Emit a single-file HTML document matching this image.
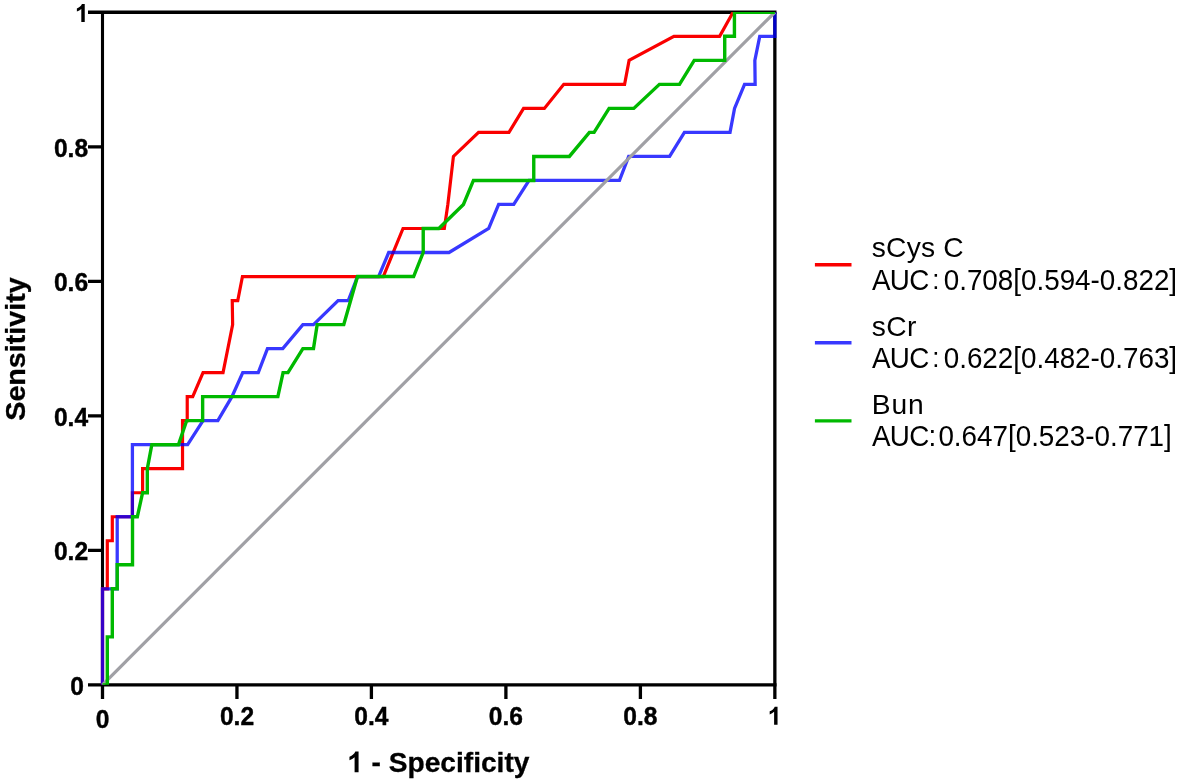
<!DOCTYPE html>
<html>
<head>
<meta charset="utf-8">
<title>ROC</title>
<style>
html,body{margin:0;padding:0;background:#fff;}
body{width:1180px;height:782px;overflow:hidden;position:relative;font-family:"Liberation Sans",sans-serif;}
svg{position:absolute;left:0;top:0;filter:blur(0.45px);}
text{font-family:"Liberation Sans",sans-serif;fill:#000;}
.tk{font-size:24.6px;font-weight:bold;stroke:#000;stroke-width:0.4px;}
.ttl{font-size:28.3px;font-weight:bold;stroke:#000;stroke-width:0.3px;}
.lg{font-size:27.8px;}
.l1{font-size:28.2px;}
.auc{letter-spacing:-0.7px;}
</style>
</head>
<body>
<svg width="1180" height="782" viewBox="0 0 1180 782">
<rect x="0" y="0" width="1180" height="782" fill="#ffffff"/>
<!-- axes frame -->
<g stroke="#000" stroke-width="3.3" fill="none" stroke-linecap="butt">
<path stroke-width="3.1" d="M102.5,12.25 L102.5,686.5"/>
<path d="M774.85,12.25 L774.85,698.9"/>
<path d="M88,12.25 L776.5,12.25"/>
<path d="M88,684.85 L776.5,684.85"/>
<!-- y ticks -->
<path d="M88,146.9 H102.5 M88,281.4 H102.5 M88,415.95 H102.5 M88,550.45 H102.5"/>
<!-- x ticks -->
<path d="M102.5,684.85 V698.9 M236.95,684.85 V698.9 M371.4,684.85 V698.9 M505.9,684.85 V698.9 M640.4,684.85 V698.9"/>
</g>
<!-- curves -->
<clipPath id="cp"><rect x="95" y="12.1" width="690" height="672.75"/></clipPath>
<g fill="none" stroke-linejoin="miter" stroke-miterlimit="10" clip-path="url(#cp)">
<path id="red" stroke="#fa0000" stroke-width="3.2" d="M102.5,684.9 L102.5,588.81 L107.3,588.81 L107.3,540.77 L112.3,540.77 L112.3,516.75 L132.41,516.75 L132.41,492.73 L142.61,492.73 L142.61,468.71 L182.53,468.71 L182.53,420.66 L187.23,420.66 L187.23,396.64 L192.73,396.64 L203.04,372.62 L223.04,372.62 L232.65,324.58 L232.25,300.56 L237.75,300.56 L242.45,276.54 L383.3,276.54 L403.01,228.49 L444.33,228.49 L447.83,204.47 L453.43,156.43 L478.54,132.41 L508.95,132.41 L523.56,108.39 L544.36,108.39 L563.77,84.36 L624.59,84.36 L629.1,60.34 L673.91,36.32 L719.63,36.32 L733.03,12.3 L774.85,12.3"/>
<path id="blue" stroke="#0000ff" stroke-opacity="0.78" stroke-width="3.3" d="M102.5,684.9 L102.5,588.81 L117.21,588.81 L117.21,516.75 L132.41,516.75 L132.41,444.69 L187.63,444.69 L203.04,420.66 L217.84,420.66 L231.95,396.64 L242.75,372.62 L258.26,372.62 L267.46,348.6 L282.77,348.6 L302.87,324.58 L313.48,324.58 L338.09,300.56 L348.29,300.56 L357.49,276.54 L378.6,276.54 L388.71,252.51 L449.03,252.51 L488.74,228.49 L498.65,204.47 L513.75,204.47 L529.06,180.45 L619.49,180.45 L628.7,156.43 L669.61,156.43 L684.42,132.41 L730.03,132.41 L734.54,108.39 L744.54,84.36 L755.14,84.36 L754.84,60.34 L759.74,36.32 L774.85,36.32 L774.85,12.3"/>
<path id="gray" stroke="#a0a0a5" stroke-width="3.2" d="M102.5,684.85 L774.85,12.25"/>
<path id="green" stroke="#00b900" stroke-width="3.4" d="M102.5,684.9 L107.3,684.9 L107.3,636.86 L112.3,636.86 L112.3,588.81 L117.21,588.81 L117.21,564.79 L132.51,564.79 L132.51,516.75 L137.31,516.75 L142.61,492.73 L147.32,492.73 L147.32,468.71 L151.82,444.69 L178.43,444.69 L186.63,420.66 L202.64,420.66 L202.64,396.64 L277.87,396.64 L283.07,372.62 L287.97,372.62 L302.87,348.6 L313.48,348.6 L317.18,324.58 L343.79,324.58 L357.49,276.54 L413.62,276.54 L423.22,252.51 L423.22,228.49 L438.83,228.49 L463.43,204.47 L473.44,180.45 L533.76,180.45 L533.76,156.43 L569.37,156.43 L589.38,132.41 L594.08,132.41 L609.09,108.39 L633.8,108.39 L659.41,84.36 L679.51,84.36 L694.22,60.34 L724.73,60.34 L724.73,36.32 L734.43,36.32 L734.43,12.3 L774.85,12.3"/>
</g>
<!-- y tick labels -->
<g class="tk">
<path d="M806,0H525V1059Q371,915 162,846V1101Q272,1137 401,1237.5Q530,1338 578,1472H806Z" transform="translate(74.9,21.9) scale(0.012207,-0.012207)"/>
<text text-anchor="end" transform="translate(88.1,156.8) scale(1,1.04)">0.8</text>
<text text-anchor="end" transform="translate(88.1,291.3) scale(1,1.04)">0.6</text>
<text text-anchor="end" transform="translate(88.1,425.85) scale(1,1.04)">0.4</text>
<text text-anchor="end" transform="translate(88.1,560.35) scale(1,1.04)">0.2</text>
<text text-anchor="end" transform="translate(83.9,694.75) scale(1,1.04)">0</text>
</g>
<!-- x tick labels -->
<g class="tk">
<text text-anchor="middle" transform="translate(102.6,728.1) scale(1,1.04)">0</text>
<text text-anchor="middle" transform="translate(237,724.8) scale(1,1.04)">0.2</text>
<text text-anchor="middle" transform="translate(371.4,724.8) scale(1,1.04)">0.4</text>
<text text-anchor="middle" transform="translate(505.8,724.8) scale(1,1.04)">0.6</text>
<text text-anchor="middle" transform="translate(640.3,724.8) scale(1,1.04)">0.8</text>
<path d="M806,0H525V1059Q371,915 162,846V1101Q272,1137 401,1237.5Q530,1338 578,1472H806Z" transform="translate(767.7,724.8) scale(0.012207,-0.012207)"/>
</g>
<!-- axis titles -->
<g class="ttl">
<path d="M806,0H525V1059Q371,915 162,846V1101Q272,1137 401,1237.5Q530,1338 578,1472H806Z" transform="translate(347.16,772.3) scale(0.014160,-0.014160)"/>
<text style="font-size:28.15px" transform="translate(363.71,772.3) scale(1,0.985)" xml:space="preserve"> - Specificity</text>
<text style="font-size:28.7px" text-anchor="middle" transform="translate(24.7,349) rotate(-90) scale(1,0.985)">Sensitivity</text>
</g>
<!-- legend -->
<g stroke-width="3.4" fill="none">
<path stroke="#fa0000" d="M814.9,264.8 H851.5"/>
<path stroke="#0000ff" stroke-opacity="0.78" d="M814.9,342.8 H851.5"/>
<path stroke="#00b900" d="M814.9,420.9 H851.5"/>
</g>
<g class="lg">
<text class="l1" style="letter-spacing:0.2px" transform="translate(871.8,257.4) scale(1,1.01)">sCys C</text>
<text class="auc" transform="translate(872,289.6) scale(1,1.04)">AUC</text>
<text text-anchor="middle" style="font-size:25.8px" transform="translate(935.8,289.3) scale(1,1.04)">:</text>
<text transform="translate(943.7,289.6) scale(1,1.04)">0.708[0.594-0.822]</text>
<text class="l1" style="letter-spacing:0.35px" transform="translate(871.8,335.5) scale(1,1.01)">sCr</text>
<text class="auc" transform="translate(872,367.7) scale(1,1.04)">AUC</text>
<text text-anchor="middle" style="font-size:25.8px" transform="translate(935.8,367.4) scale(1,1.04)">:</text>
<text transform="translate(943.7,367.7) scale(1,1.04)">0.622[0.482-0.763]</text>
<text class="l1" style="letter-spacing:0.8px" transform="translate(871.8,413.6) scale(1,1.01)">Bun</text>
<text class="auc" transform="translate(872,445.8) scale(1,1.04)">AUC:</text>
<text transform="translate(938.4,445.8) scale(1,1.04)">0.647[0.523-0.771]</text>
</g>
</svg>
</body>
</html>
